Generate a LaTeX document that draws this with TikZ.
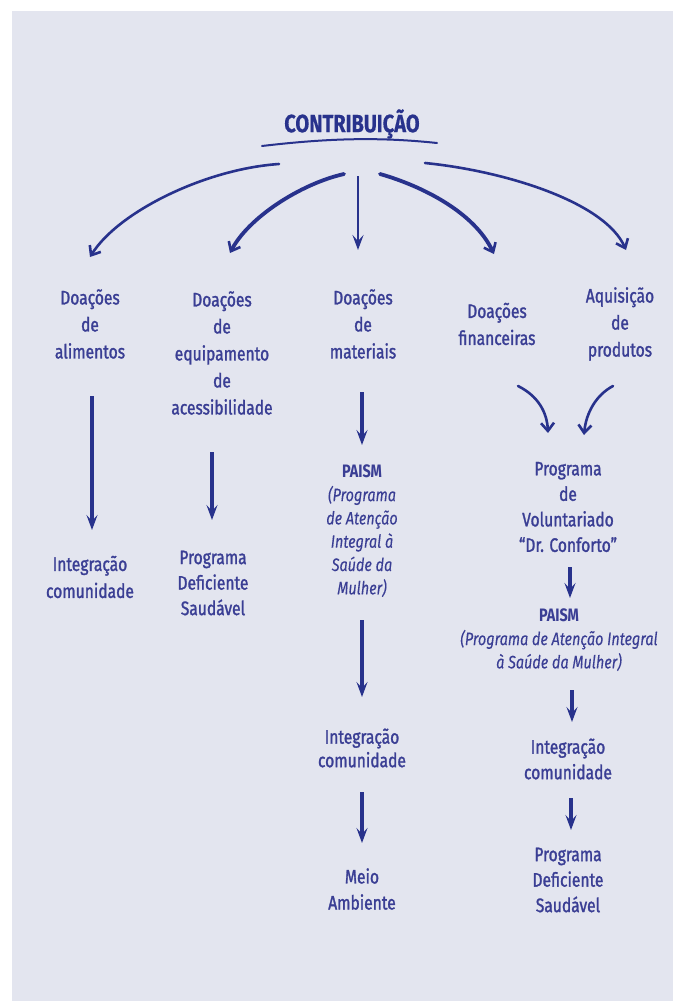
\documentclass[tikz,border=0pt]{standalone}
\usepackage{fontspec}
\setmainfont{Fira Sans}[FakeStretch=0.8, FakeBold=1.4, ItalicFeatures={FakeBold=0.2}, BoldFeatures={FakeBold=0}]
\newfontfamily\titlefont{Fira Sans}[FakeStretch=0.8, BoldFeatures={FakeBold=0.3}]
\usetikzlibrary{arrows.meta}
\definecolor{bgc}{RGB}{227,229,239}
\definecolor{arrc}{RGB}{40,50,140}
\definecolor{txtc}{RGB}{58,62,148}
\tikzset{
  lbl/.style={text=txtc, align=center, inner sep=0pt, font=\fontsize{19.5}{27}\selectfont},
  lblb/.style={lbl, font=\fontsize{19.5}{25.5}\selectfont},
  paism/.style={text=txtc, align=center, inner sep=0pt, font=\fontsize{18}{23.3}\selectfont},
  vconn/.style={draw=arrc, line width=3.2pt, -{Stealth[length=15pt,width=11pt,inset=6pt]}},
  cconn/.style={draw=arrc, line width=2.6pt, line cap=round, -{Straight Barb[length=8pt,width=13pt,line width=2.6pt]}},
  cconnthick/.style={cconn, line width=3.8pt},
}
\begin{document}
\begin{tikzpicture}[x=1pt,y=-1pt]
\useasboundingbox (0,0) rectangle (672,1001);
\fill[white] (0,0) rectangle (672,1001);
\fill[bgc] (12,11) rectangle (673,1002);

% title
\node[text=arrc, inner sep=0pt, font=\titlefont\fontsize{25}{28}\selectfont\bfseries] (title) at (352,124) {CONTRIBUIÇÃO};
\coordinate (ul1) at (262,146);
\coordinate (ul2) at (437,143);
\draw[arrc, line width=2pt, line cap=round] (ul1) .. controls (330,138) and (380,137) .. (ul2);

% level 1
\node[lbl] (alim) at (90,324) {Doações\\de\\alimentos};
\node[lbl] (equip) at (222,353) {Doações\\de\\equipamento\\de\\acessibilidade};
\node[lbl] (mat) at (363,324) {Doações\\de\\materiais};
\node[lbl] (fin) at (497,324) {Doações\\financeiras};
\node[lbl] (aq) at (620,324) {Aquisição\\de\\produtos};

% top arrows
\coordinate (t1s) at (279,164); \coordinate (t1e) at (90,257);
\coordinate (t2s) at (344,174); \coordinate (t2e) at (230,253);
\coordinate (t3s) at (358,176); \coordinate (t3e) at (358,250);
\coordinate (t4s) at (380,174); \coordinate (t4e) at (494,254);
\coordinate (t5s) at (425,163); \coordinate (t5e) at (626,250);
\draw[cconn] (t1s) .. controls (205,169) and (118,212) .. (t1e);
\draw[cconnthick] (t2s) .. controls (300,184) and (248,218) .. (t2e);
\draw[vconn, line width=2.6pt] (t3s) -- (t3e);
\draw[cconnthick] (t4s) .. controls (422,186) and (474,212) .. (t4e);
\draw[cconn] (t5s) .. controls (505,171) and (605,202) .. (t5e);

% column 1
\node[lbl] (int1) at (90,577) {Integração\\comunidade};
\coordinate (c1s) at (92,396); \coordinate (c1e) at (92,530);
\draw[vconn] (c1s) -- (c1e);

% column 2
\node[lblb] (prog2) at (213,583) {Programa\\Deficiente\\Saudável};
\coordinate (c2s) at (212,452); \coordinate (c2e) at (212,520);
\draw[vconn] (c2s) -- (c2e);

% column 3
\node[paism] (paism3) at (362,531) {\textbf{PAISM}\\\textit{(Programa}\\\textit{de Atenção}\\\textit{Integral à}\\\textit{Saúde da}\\\textit{Mulher)}};
\node[lbl, font=\fontsize{19.5}{23.5}\selectfont] (int3) at (362,748) {Integração\\comunidade};
\node[lbl, font=\fontsize{19.5}{26}\selectfont] (meio) at (362,889) {Meio\\Ambiente};
\coordinate (c3as) at (362,392); \coordinate (c3ae) at (362,445);
\coordinate (c3bs) at (362,620); \coordinate (c3be) at (362,697);
\coordinate (c3cs) at (362,792); \coordinate (c3ce) at (362,843);
\draw[vconn] (c3as) -- (c3ae);
\draw[vconn] (c3bs) -- (c3be);
\draw[vconn] (c3cs) -- (c3ce);

% column 4/5
\coordinate (s1s) at (518,386); \coordinate (s1e) at (548,433);
\coordinate (s2s) at (613,386); \coordinate (s2e) at (584,435);
\draw[cconn] (s1s) .. controls (538,396) and (547,412) .. (s1e);
\draw[cconn] (s2s) .. controls (596,395) and (586,413) .. (s2e);
\node[lblb] (vol) at (568,507) {Programa\\de\\Voluntariado\\“Dr. Conforto”};
\node[paism] (paism4) at (559,640) {\textbf{PAISM}\\\textit{(Programa de Atenção Integral}\\\textit{à Saúde da Mulher)}};
\node[lblb] (int4) at (568,759) {Integração\\comunidade};
\node[lblb] (prog4) at (568,880) {Programa\\Deficiente\\Saudável};
\coordinate (c4as) at (570,567); \coordinate (c4ae) at (570,598);
\coordinate (c4bs) at (572,690); \coordinate (c4be) at (572,722);
\coordinate (c4cs) at (571,798); \coordinate (c4ce) at (571,830);
\draw[vconn] (c4as) -- (c4ae);
\draw[vconn] (c4bs) -- (c4be);
\draw[vconn] (c4cs) -- (c4ce);
\end{tikzpicture}
\end{document}
